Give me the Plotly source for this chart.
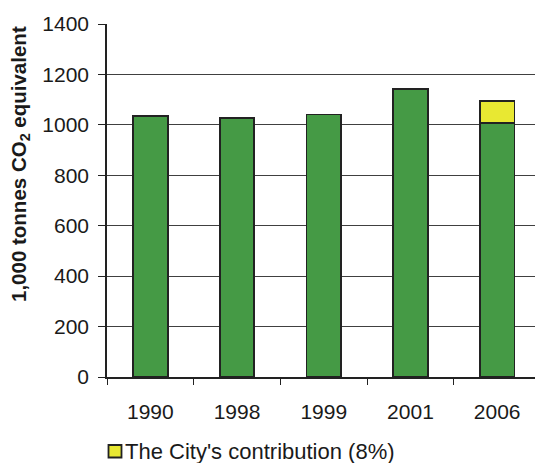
import plotly.graph_objects as go

# Emissions data (1,000 tonnes CO2 equivalent)
years = ["1990", "1998", "1999", "2001", "2006"]
base_emissions = [1035, 1027, 1041, 1143, 1006]
city_contribution = [None, None, None, None, 88]
y_ticks = [0, 200, 400, 600, 800, 1000, 1200, 1400]
legend_label = "The City's contribution (8%)"

GREEN = "#459a45"
YELLOW = "#e8e832"
EDGE = "#222222"
FONT = "Liberation Sans, Arial, sans-serif"

fig = go.Figure()
fig.add_trace(go.Bar(
    x=years, y=base_emissions, name="Emissions",
    marker=dict(color=GREEN, line=dict(color=EDGE, width=1.8)),
    width=0.4,
))
fig.add_trace(go.Bar(
    x=years, y=city_contribution, name=legend_label,
    marker=dict(color=YELLOW, line=dict(color=EDGE, width=1.8)),
    width=0.4,
))

# plot area: left edge at ~107 px, runs to the right edge of the page
W, H = 535, 463
ml, mt, mb = 107, 24, 86
pw = W - ml
ph = H - mt - mb
cat_px = 86.7
x_hi = -0.5 + pw / cat_px


def px_x(x):
    return (x - ml) / pw


def px_y(y):
    return (H - mb - y) / ph


fig.update_layout(
    width=W, height=H,
    margin=dict(l=ml, r=0, t=mt, b=mb, pad=0),
    barmode="stack", showlegend=False,
    plot_bgcolor="white", paper_bgcolor="white",
    font=dict(family=FONT, size=21, color="#1a1a1a"),
    xaxis=dict(
        type="category", range=[-0.5, x_hi],
        showline=True, linecolor="#222", linewidth=1.5,
        ticks="outside", tickson="boundaries", ticklen=6,
        tickcolor="#222", tickwidth=1, ticklabelstandoff=15,
        showgrid=False, tickfont=dict(size=21),
    ),
    yaxis=dict(
        range=[0, 1400], tickvals=y_ticks,
        showline=True, linecolor="#222", linewidth=1.5,
        ticks="outside", ticklen=7, tickcolor="#222", tickwidth=1,
        ticklabelstandoff=5,
        showgrid=True, gridcolor="#404040", gridwidth=1,
        zeroline=False, tickfont=dict(size=21),
    ),
    # legend key for the City's share, below the axis
    shapes=[dict(
        type="rect", xref="paper", yref="paper",
        x0=px_x(108.5), x1=px_x(121.5), y0=px_y(457.5), y1=px_y(445),
        fillcolor=YELLOW, line=dict(color=EDGE, width=1.8),
    )],
    annotations=[
        dict(
            text=legend_label,
            xref="paper", yref="paper",
            x=px_x(123), y=px_y(451),
            xanchor="left", yanchor="middle", showarrow=False,
            font=dict(family=FONT, size=22, color="#1a1a1a"),
        ),
        dict(
            text="<b>1,000 tonnes CO<sub>2</sub> equivalent</b>",
            xref="paper", yref="paper",
            x=px_x(20), y=px_y(164),
            xanchor="center", yanchor="middle",
            textangle=-90, showarrow=False,
            font=dict(family=FONT, size=20.5, color="#1a1a1a"),
        ),
    ],
)

fig.write_html("out.html")
